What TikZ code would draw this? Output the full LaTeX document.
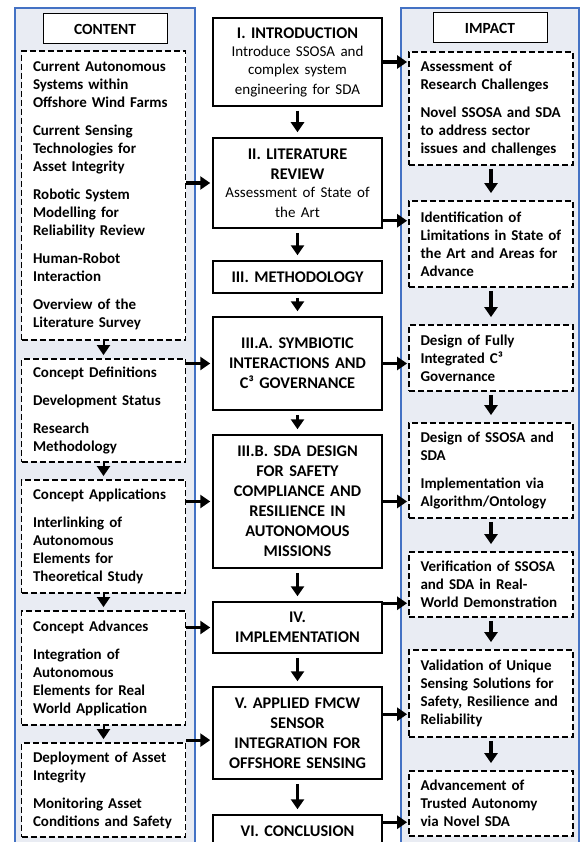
\documentclass[tikz,border=0pt]{standalone}
\usepackage{fontspec}
\setmainfont{Carlito}
\usetikzlibrary{arrows.meta}
\definecolor{panelfill}{RGB}{233,236,243}
\definecolor{panelline}{RGB}{68,114,196}
\newcommand{\desc}{\mdseries\fontsize{15}{18}\selectfont}
\tikzset{
  panel/.style={draw=panelline, fill=panelfill, line width=1.2pt},
  headbox/.style={draw, fill=white, line width=1pt, minimum height=30pt, font=\bfseries\fontsize{15.5}{18}\selectfont},
  secbox/.style={draw, fill=white, line width=1.5pt, minimum width=169pt, text width=155pt, inner xsep=7pt, align=center, font=\bfseries\fontsize{16.3}{20}\selectfont},
  itembox/.style={draw, dash pattern=on 6pt off 3pt, fill=white, line width=1.8pt, text width=141pt, inner xsep=11.5pt, align=left, font=\bfseries\fontsize{15}{18}\selectfont},
  arr/.style={line width=3.2pt, -{Triangle[length=10pt,width=13pt]}},
  arrsmall/.style={line width=2pt, -{Triangle[length=10pt,width=13pt]}, shorten >=3pt}
}

\begin{document}
\begin{tikzpicture}[x=1pt, y=-1pt]
\useasboundingbox (0,0) rectangle (580,842);
\clip (0,0) rectangle (580,842);
\draw[panel] (15,8) rectangle (195,860);
\draw[panel] (401,8) rectangle (579,860);
\node[headbox, minimum width=124pt] (content) at (105,29) {CONTENT};
\node[headbox, minimum width=114pt] (impact) at (490,28) {IMPACT};

\node[itembox, minimum height=289pt] (L1) at (103.5,195.5) {Current Autonomous\\ Systems within\\ Offshore Wind Farms\\[10pt] Current Sensing\\ Technologies for\\ Asset Integrity\\[10pt] Robotic System\\ Modelling for\\ Reliability Review\\[10pt] Human-Robot\\ Interaction\\[10pt] Overview of the\\ Literature Survey};
\node[itembox, minimum height=103pt] (L2) at (103.5,410.5) {Concept Definitions\\[10pt] Development Status\\[10pt] Research\\ Methodology};
\node[itembox, minimum height=113pt] (L3) at (103.5,536.5) {Concept Applications\\[10pt] Interlinking of\\ Autonomous\\ Elements for\\ Theoretical Study};
\node[itembox, minimum height=114pt] (L4) at (103.5,668) {Concept Advances\\[10pt] Integration of\\ Autonomous\\ Elements for Real\\ World Application};
\node[itembox, minimum height=94pt] (L5) at (103.5,790) {Deployment of Asset\\ Integrity\\[10pt] Monitoring Asset\\ Conditions and Safety};

\node[secbox, minimum height=88pt] (I) at (297.5,62) {I. INTRODUCTION\\ {\desc Introduce SSOSA and\\ complex system\\ engineering for SDA}};
\node[secbox, minimum height=90pt] (II) at (297.5,183) {II. LITERATURE\\ REVIEW\\ {\desc Assessment of State of\\ the Art}};
\node[secbox, minimum height=32pt] (III) at (297.5,277) {III. METHODOLOGY};
\node[secbox, minimum height=93pt] (IIIA) at (297.5,363.5) {III.A. SYMBIOTIC\\ INTERACTIONS AND\\ C³ GOVERNANCE};
\node[secbox, minimum height=133pt] (IIIB) at (297.5,501.5) {III.B. SDA DESIGN\\ FOR SAFETY\\ COMPLIANCE AND\\ RESILIENCE IN\\ AUTONOMOUS\\ MISSIONS};
\node[secbox, minimum height=51pt] (IV) at (297.5,627.5) {IV.\\ IMPLEMENTATION};
\node[secbox, minimum height=92pt] (V) at (297.5,733) {V. APPLIED FMCW\\ SENSOR\\ INTEGRATION FOR\\ OFFSHORE SENSING};
\node[secbox, minimum height=32pt] (VI) at (297.5,831) {VI. CONCLUSION};

\node[itembox, minimum height=113pt] (R1) at (491,108.5) {Assessment of\\ Research Challenges\\[10pt] Novel SSOSA and SDA\\ to address sector\\ issues and challenges};
\node[itembox, minimum height=86pt] (R2) at (491,244) {Identification of\\ Limitations in State of\\ the Art and Areas for\\ Advance};
\node[itembox, minimum height=66pt] (R3) at (491,358) {Design of Fully\\ Integrated C³\\ Governance};
\node[itembox, minimum height=95pt] (R4) at (491,470.5) {Design of SSOSA and\\ SDA\\[10pt] Implementation via\\ Algorithm/Ontology};
\node[itembox, minimum height=65pt] (R5) at (491,584.5) {Verification of SSOSA\\ and SDA in Real-\\ World Demonstration};
\node[itembox, minimum height=87pt] (R6) at (491,693.5) {Validation of Unique\\ Sensing Solutions for\\ Safety, Resilience and\\ Reliability};
\node[itembox, minimum height=65pt] (R7) at (491,803.5) {Advancement of\\ Trusted Autonomy\\ via Novel SDA};

\foreach \a/\b in {L1/L2, L2/L3, L3/L4, L4/L5}
  \draw[arrsmall] (\a.south) -- (\b.north);
\foreach \a/\b in {I/II, II/III, III/IIIA, IIIA/IIIB, IIIB/IV, IV/V, V/VI}
  \draw[arr, shorten <=4pt, shorten >=5pt] (\a.south) -- (\b.north);
\foreach \a/\b in {R1/R2, R2/R3, R3/R4, R4/R5, R5/R6, R6/R7}
  \draw[arr, shorten <=3pt, shorten >=7pt] (\a.south) -- (\b.north);

\foreach \a/\b in {L1/II, L2/IIIA, L3/IIIB, L4/IV}
  \draw[arr, shorten >=2pt] (\b.west -| \a.east) -- (\b.west);
\coordinate (l5) at ([yshift=2pt]L5.north east);
\draw[arr, shorten >=2pt] (l5) -- (l5 -| V.west);

\coordinate (m2) at ([yshift=8pt]II.south east);
\coordinate (m5) at ([yshift=-2pt]IV.north east);
\coordinate (m6) at ([yshift=-28pt]V.north east);
\coordinate (m7) at ([yshift=-8pt]VI.north east);
\draw[arr, shorten >=1pt] (I.east) -- (I.east -| R1.west);
\draw[arr, shorten >=1pt] (m2) -- (m2 -| R2.west);
\draw[arr, shorten >=1pt] (IIIA.east) -- (IIIA.east -| R3.west);
\draw[arr, shorten >=1pt] (IIIB.east) -- (IIIB.east -| R4.west);
\draw[arr, shorten >=1pt] (m5) -- (m5 -| R5.west);
\draw[arr, shorten >=1pt] (m6) -- (m6 -| R6.west);
\draw[arr, shorten >=1pt] (m7) -- (m7 -| R7.west);
\end{tikzpicture}
\end{document}
